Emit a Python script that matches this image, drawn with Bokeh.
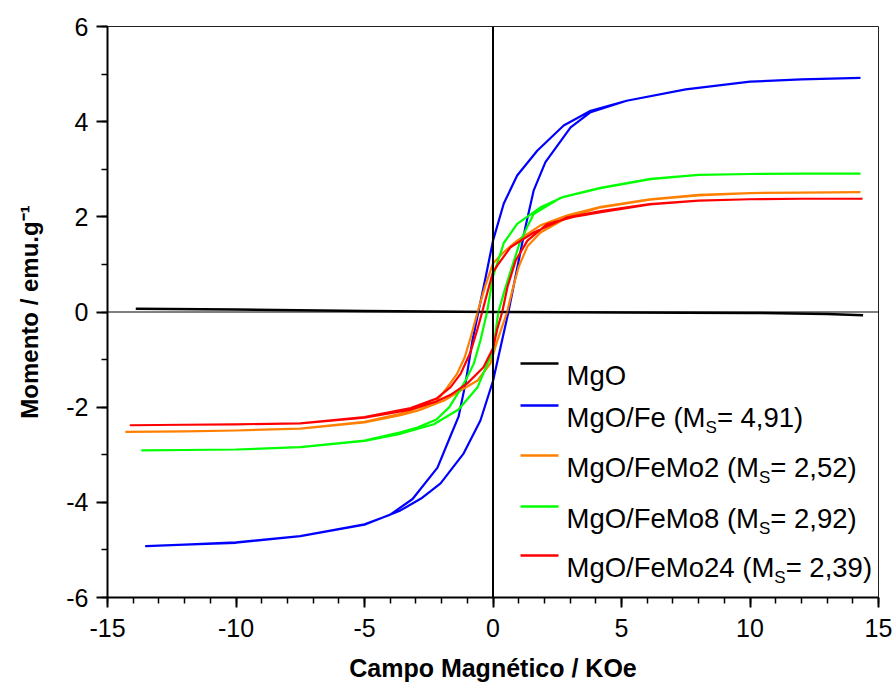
from bokeh.plotting import figure
from bokeh.models import Range1d, FixedTicker, Span, Label
from bokeh.embed import file_html
from bokeh.resources import INLINE

# ---------------- data ----------------
x_ticks = [-15, -10, -5, 0, 5, 10, 15]
x_tick_labels = ["-15", "-10", "-5", "0", "5", "10", "15"]
y_ticks = [-6, -4, -2, 0, 2, 4, 6]
y_tick_labels = ["-6", "-4", "-2", "0", "2", "4", "6"]

series_names = ["MgO", "MgO/Fe", "MgO/FeMo2", "MgO/FeMo8", "MgO/FeMo24"]
ms_values = [None, "4,91", "2,52", "2,92", "2,39"]
colors = ["#000000", "#0000FF", "#FF8000", "#00FF00", "#FF0000"]

x_label = "Campo Magnético / KOe"
y_label = "Momento / emu.g\u207b\u00b9"

mgo_h = [-13.9, -10.0, -5.0, 0.0, 5.0, 10.0, 13.0, 14.4]
mgo_m = [0.07, 0.05, 0.02, 0.0, -0.01, -0.02, -0.04, -0.07]

fe_h_desc = [14.3, 12.0, 10.0, 7.5, 5.2, 3.8, 2.75, 1.72, 0.94, 0.42, 0.0, -0.29, -0.57,
             -0.8, -1.07, -1.34, -1.65, -2.16, -3.13, -4.0, -5.0, -7.5, -10.0, -12.0, -13.5]
fe_m_desc = [4.92, 4.89, 4.84, 4.68, 4.44, 4.23, 3.92, 3.39, 2.87, 2.28, 1.5, 0.72, 0.0,
             -0.6, -1.5, -2.2, -2.6, -3.27, -3.93, -4.26, -4.46, -4.71, -4.84, -4.89, -4.92]
fe_h_asc = [-13.5, -12.0, -10.0, -7.5, -5.0, -3.6, -2.8, -2.04, -1.14, -0.49, 0.0, 0.6,
            1.26, 1.58, 2.04, 3.02, 3.8, 5.2, 7.5, 10.0, 12.0, 14.3]
fe_m_asc = [-4.92, -4.89, -4.85, -4.71, -4.47, -4.17, -3.92, -3.6, -2.97, -2.28, -1.45, 0.0,
            1.78, 2.55, 3.15, 3.88, 4.2, 4.44, 4.68, 4.84, 4.89, 4.92]

femo2_h_desc = [14.3, 12.0, 10.0, 8.0, 6.1, 4.2, 2.9, 1.85, 0.94, 0.4, 0.0, -0.3, -0.6,
                -0.85, -1.1, -1.4, -1.77, -2.2, -2.82, -3.6, -5.0, -7.5, -10.0, -12.0, -14.27]
femo2_m_desc = [2.52, 2.51, 2.50, 2.46, 2.37, 2.21, 2.03, 1.82, 1.5, 1.25, 1.02, 0.55, 0.0,
                -0.5, -0.95, -1.3, -1.58, -1.88, -2.0, -2.14, -2.31, -2.45, -2.49, -2.51, -2.52]
femo2_h_asc = [-14.27, -12.0, -10.0, -7.5, -5.0, -3.6, -2.9, -1.9, -1.2, -0.6, -0.1, 0.17,
               0.55, 0.75, 1.0, 1.34, 1.85, 2.9, 4.2, 6.1, 8.0, 10.0, 12.0, 14.3]
femo2_m_asc = [-2.52, -2.51, -2.49, -2.45, -2.32, -2.17, -2.07, -1.86, -1.63, -1.44, -1.08, -0.6,
               0.0, 0.45, 0.95, 1.38, 1.67, 1.99, 2.2, 2.36, 2.45, 2.50, 2.51, 2.52]

femo8_h_desc = [14.3, 12.0, 10.0, 8.0, 6.13, 4.18, 2.75, 1.85, 0.94, 0.42, 0.0, -0.23, -0.49,
                -0.75, -1.07, -1.38, -1.7, -2.2, -2.94, -3.6, -5.0, -7.5, -10.0, -12.0, -13.65]
femo8_m_desc = [2.91, 2.91, 2.90, 2.88, 2.80, 2.61, 2.42, 2.2, 1.85, 1.45, 0.75, 0.0, -0.6,
                -1.09, -1.44, -1.72, -2.0, -2.26, -2.43, -2.53, -2.70, -2.84, -2.89, -2.90, -2.91]
femo8_h_asc = [-13.65, -12.0, -10.0, -7.5, -5.0, -3.6, -2.3, -1.34, -0.6, 0.0, 0.21, 0.45,
               0.68, 1.07, 1.58, 2.63, 4.18, 6.13, 8.0, 10.0, 12.0, 14.3]
femo8_m_asc = [-2.91, -2.90, -2.89, -2.84, -2.71, -2.56, -2.36, -2.05, -1.58, -0.81, 0.0, 0.45,
               0.85, 1.5, 2.06, 2.40, 2.60, 2.79, 2.88, 2.90, 2.91, 2.91]

femo24_h_desc = [14.38, 12.0, 10.0, 8.0, 6.1, 4.2, 2.9, 1.58, 0.68, 0.17, 0.0, -0.2, -0.42,
                 -0.6, -0.88, -1.26, -1.65, -2.2, -3.2, -5.0, -7.5, -10.0, -12.0, -14.1]
femo24_m_desc = [2.38, 2.38, 2.37, 2.34, 2.27, 2.12, 1.99, 1.67, 1.36, 0.98, 0.84, 0.45, 0.0,
                 -0.35, -0.85, -1.3, -1.58, -1.82, -2.02, -2.21, -2.34, -2.36, -2.37, -2.38]
femo24_h_asc = [-14.1, -12.0, -10.0, -7.5, -5.0, -3.2, -2.2, -1.65, -1.0, -0.37, 0.0, 0.17,
                0.36, 0.56, 0.88, 1.34, 2.12, 3.13, 4.2, 6.1, 8.0, 10.0, 12.0, 14.38]
femo24_m_asc = [-2.38, -2.37, -2.36, -2.34, -2.22, -2.05, -1.88, -1.74, -1.5, -1.16, -0.76, -0.35,
                0.0, 0.52, 1.08, 1.5, 1.85, 2.0, 2.10, 2.26, 2.34, 2.37, 2.38, 2.38]

# ---------------- layout ----------------
W, H = 895, 684
FL, FR, FT, FB = 107, 878, 26, 597
XMIN, XMAX, YMIN, YMAX = -15, 15, -6, 6
FONT = "Liberation Sans"


def px_to_x(px):
    return XMIN + (px - FL) / (FR - FL) * (XMAX - XMIN)


def py_to_y(py):
    return YMAX - (py - FT) / (FB - FT) * (YMAX - YMIN)


ARIAL = {'M': 833, 'g': 556, 'O': 778, '/': 278, 'F': 611, 'e': 556, ' ': 278, '(': 333,
         ')': 333, 'S': 667, '=': 584, ',': 278, 'o': 556}
for d in "0123456789":
    ARIAL[d] = 556


def text_w(s, size):
    return sum(ARIAL.get(c, 556) for c in s) * size / 1000.0


p = figure(width=W, height=H, output_backend="svg", toolbar_location=None,
           x_range=Range1d(XMIN, XMAX), y_range=Range1d(YMIN, YMAX),
           min_border_left=FL, min_border_right=W - FR, min_border_top=FT,
           min_border_bottom=H - FB)
p.grid.visible = False
p.background_fill_color = "white"
p.border_fill_color = "white"
p.outline_line_color = "#222222"
p.outline_line_width = 1

# axes
p.xaxis.ticker = FixedTicker(ticks=x_ticks, minor_ticks=list(range(-15, 16)))
p.yaxis.ticker = FixedTicker(ticks=y_ticks, minor_ticks=list(range(-6, 7)))
p.xaxis.major_label_overrides = dict(zip(x_ticks, x_tick_labels))
p.yaxis.major_label_overrides = dict(zip(y_ticks, y_tick_labels))
for ax in (p.xaxis, p.yaxis):
    ax.axis_line_width = 2
    ax.axis_line_color = "black"
    ax.major_tick_line_width = 2
    ax.minor_tick_line_width = 1.5
    ax.major_tick_line_color = "black"
    ax.minor_tick_line_color = "black"
    ax.major_tick_in = 0
    ax.minor_tick_in = 0
    ax.major_label_text_font = FONT
    ax.major_label_text_font_size = "25px"
    ax.major_label_text_color = "black"
    ax.axis_label_text_font = FONT
    ax.axis_label_text_font_style = "bold"
    ax.axis_label_text_color = "black"
p.xaxis.major_tick_out = 10
p.xaxis.minor_tick_out = 6
p.yaxis.major_tick_out = 11
p.yaxis.minor_tick_out = 6
p.xaxis.major_label_standoff = 11
p.yaxis.major_label_standoff = 8
p.xaxis.axis_label = x_label
p.xaxis.axis_label_text_font_size = "25px"
p.xaxis.axis_label_standoff = 14
p.yaxis.axis_label = y_label
p.yaxis.axis_label_text_font_size = "24px"
p.yaxis.axis_label_standoff = 20

# zero lines
p.add_layout(Span(location=0, dimension="height", line_color="black", line_width=2))
p.add_layout(Span(location=0, dimension="width", line_color="black", line_width=1))

# curves
loops = [
    (mgo_h, mgo_m),
    (fe_h_desc + fe_h_asc, fe_m_desc + fe_m_asc),
    (femo2_h_desc + femo2_h_asc, femo2_m_desc + femo2_m_asc),
    (femo8_h_desc + femo8_h_asc, femo8_m_desc + femo8_m_asc),
    (femo24_h_desc + femo24_h_asc, femo24_m_desc + femo24_m_asc),
]
for (hx, my), c in zip(loops, colors):
    p.line(hx, my, line_color=c, line_width=2.5 if c == "#000000" else 2.2,
           line_join="round")

# legend (manual, with subscripts)
row_py = [363, 405, 455, 506, 555]
LS = 27.5
SS = 17
for name, ms, c, ry in zip(series_names, ms_values, colors, row_py):
    yy = py_to_y(ry)
    p.segment(x0=[px_to_x(520)], x1=[px_to_x(558)], y0=[yy], y1=[yy],
              line_color=c, line_width=2.5)
    tx = 566
    first = name if ms is None else name + " (M"
    p.add_layout(Label(x=px_to_x(tx), y=py_to_y(ry + 12), text=first, text_font=FONT,
                       text_font_size=f"{LS}px", text_color="black",
                       text_align="left", text_baseline="alphabetic"))
    if ms is not None:
        tx += text_w(first, LS)
        p.add_layout(Label(x=px_to_x(tx), y=py_to_y(ry + 22), text="S", text_font=FONT,
                           text_font_size=f"{SS}px", text_color="black",
                           text_align="left", text_baseline="alphabetic"))
        tx += text_w("S", SS)
        p.add_layout(Label(x=px_to_x(tx), y=py_to_y(ry + 12), text="= " + ms + ")",
                           text_font=FONT, text_font_size=f"{LS}px", text_color="black",
                           text_align="left", text_baseline="alphabetic"))

open("out.html", "w").write(file_html(p, INLINE))
